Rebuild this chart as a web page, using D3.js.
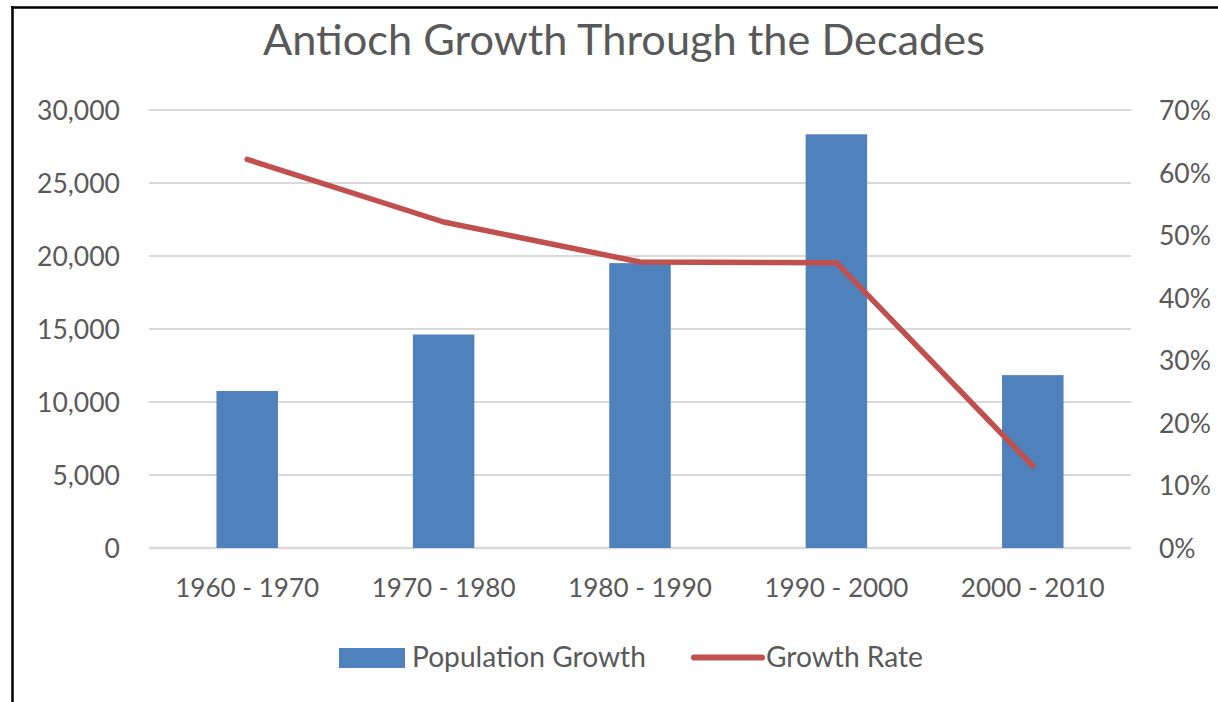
<!DOCTYPE html>
<html>
<head>
<meta charset="utf-8">
<script src="https://cdn.jsdelivr.net/npm/d3@7"></script>
<style>
  html, body { margin: 0; padding: 0; background: #ffffff; }
  svg { display: block; }
  text { font-family: Lato, "Open Sans", sans-serif; fill: #595959; }
</style>
</head>
<body>
<svg id="chart" width="1218" height="702"></svg>
<script>
// ---- data ----
const categories = ["1960 - 1970", "1970 - 1980", "1980 - 1990", "1990 - 2000", "2000 - 2010"];
const populationGrowth = [10755, 14623, 19512, 28337, 11840];
const growthRate = [0.621, 0.521, 0.457, 0.456, 0.131];
const leftTicks = [0, 5000, 10000, 15000, 20000, 25000, 30000];
const rightTicks = [0, 0.1, 0.2, 0.3, 0.4, 0.5, 0.6, 0.7];
const titleText = "Antioch Growth Through the Decades";
const seriesNames = ["Population Growth", "Growth Rate"];

// ---- layout ----
const W = 1218, H = 702;
const plot = { left: 149, right: 1131, top: 110, bottom: 548 };
const barColor = "#4f81bd", lineColor = "#c0504d", gridColor = "#d9d9d9";

const svg = d3.select("#chart");

function fitText(sel, targetW) {
  const node = sel.node();
  const cur = parseFloat(sel.style("font-size"));
  const w = node.getComputedTextLength();
  const size = cur * targetW / w;
  sel.style("font-size", size + "px");
  return size;
}

// border
svg.append("line").attr("x1", 12.5).attr("x2", 12.5).attr("y1", 6).attr("y2", H)
  .attr("stroke", "#000").attr("stroke-width", 2.5);
svg.append("line").attr("x1", 11).attr("x2", W).attr("y1", 7.5).attr("y2", 7.5)
  .attr("stroke", "#000").attr("stroke-width", 2.5);

// scales
const x = d3.scaleBand().domain(categories).range([plot.left, plot.right])
  .paddingInner(0.687).paddingOuter(0.3435);
const yL = d3.scaleLinear().domain([0, 30000]).range([plot.bottom, plot.top]);
const yR = d3.scaleLinear().domain([0, 0.7]).range([plot.bottom, plot.top]);

// gridlines
svg.append("g").selectAll("line").data(leftTicks).join("line")
  .attr("x1", plot.left).attr("x2", plot.right)
  .attr("y1", d => yL(d)).attr("y2", d => yL(d))
  .attr("stroke", gridColor).attr("stroke-width", d => d === 0 ? 2.5 : 2);

// title
const title = svg.append("text").text(titleText)
  .attr("x", 624).attr("y", 55).attr("text-anchor", "middle").style("font-size", "40px");
fitText(title, 722);

// left axis
const fmtL = d3.format(",");
const leftAxis = d3.axisLeft(yL).tickValues(leftTicks).tickFormat(fmtL).tickSize(0).tickPadding(0);
const gL = svg.append("g").attr("transform", `translate(120,0)`).call(leftAxis);
gL.select(".domain").remove();
gL.selectAll("text").attr("dy", "0.36em");
const refL = gL.selectAll("text").filter(d => d === 30000);
const sL = fitText(refL, 83);
gL.selectAll("text").style("font-size", sL + "px");

// right axis
const fmtR = d3.format(".0%");
const rightAxis = d3.axisRight(yR).tickValues(rightTicks).tickFormat(fmtR).tickSize(0).tickPadding(0);
const gR = svg.append("g").attr("transform", `translate(1159,0)`).call(rightAxis);
gR.select(".domain").remove();
gR.selectAll("text").attr("dy", "0.36em");
const refR = gR.selectAll("text").filter(d => d === 0.7);
const sR = fitText(refR, 52);
gR.selectAll("text").style("font-size", sR + "px");

// x axis
const xAxis = d3.axisBottom(x).tickSize(0).tickPadding(0);
const gX = svg.append("g").attr("transform", `translate(0,597)`).call(xAxis);
gX.select(".domain").remove();
gX.selectAll("text").attr("dy", 0).attr("y", 0);
const refX = gX.selectAll("text").filter(d => d === categories[0]);
const sX = fitText(refX, 144);
gX.selectAll("text").style("font-size", sX + "px");

// axis text fonts
svg.selectAll(".tick text").attr("fill", "#595959").style("font-family", "Lato, 'Open Sans', sans-serif");

// bars
svg.append("g").selectAll("rect").data(categories).join("rect")
  .attr("x", d => x(d)).attr("width", x.bandwidth())
  .attr("y", (d, i) => yL(populationGrowth[i]))
  .attr("height", (d, i) => yL(0) - yL(populationGrowth[i]))
  .attr("fill", barColor);

// line
const line = d3.line()
  .x((d, i) => x(categories[i]) + x.bandwidth() / 2)
  .y(d => yR(d));
svg.append("path").datum(growthRate).attr("d", line)
  .attr("fill", "none").attr("stroke", lineColor).attr("stroke-width", 5.5)
  .attr("stroke-linecap", "round").attr("stroke-linejoin", "round");

// legend
const lg = svg.append("g");
lg.append("rect").attr("x", 339).attr("y", 648).attr("width", 66).attr("height", 20).attr("fill", barColor);
const t1 = lg.append("text").text(seriesNames[0]).attr("x", 412).attr("y", 667).style("font-size", "28px");
const sLeg = fitText(t1, 234);
lg.append("line").attr("x1", 694).attr("x2", 762).attr("y1", 657.5).attr("y2", 657.5)
  .attr("stroke", lineColor).attr("stroke-width", 6).attr("stroke-linecap", "round");
lg.append("text").text(seriesNames[1]).attr("x", 766).attr("y", 667).style("font-size", sLeg + "px");
</script>
</body>
</html>
